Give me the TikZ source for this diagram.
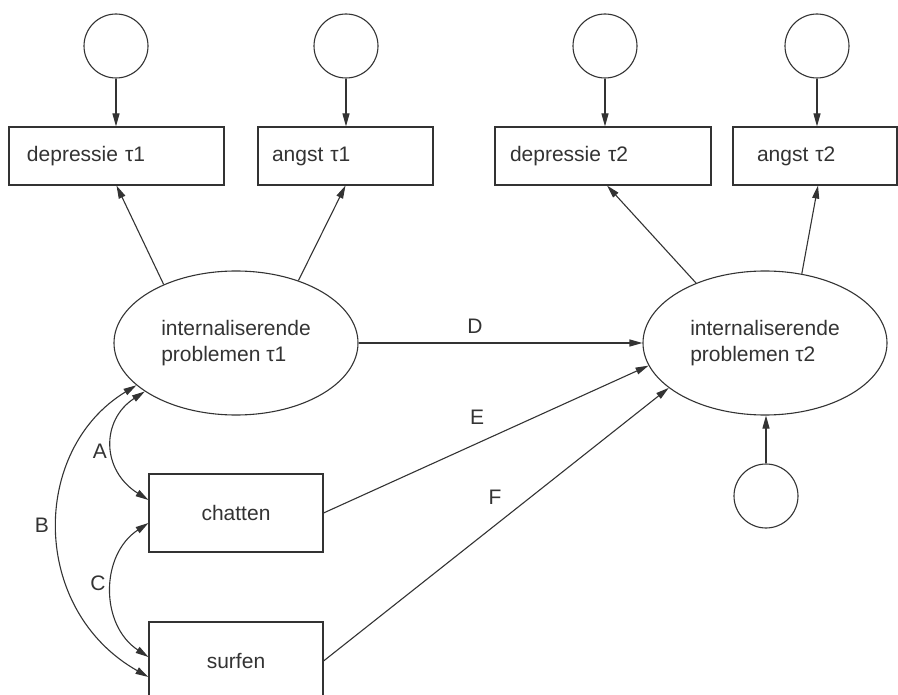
\documentclass[tikz,border=0pt]{standalone}
\usepackage{fontspec}
\setmainfont{Liberation Sans}
\usetikzlibrary{arrows.meta,shapes.geometric,calc}
\definecolor{ink}{HTML}{333333}
\begin{document}
\begin{tikzpicture}[x=1pt,y=-1pt,
  every node/.style={font=\fontsize{21}{26}\selectfont, text=ink},
  obs/.style={draw=ink, line width=1.1pt, rectangle, minimum height=58pt, inner ysep=0pt, align=left},
  smallbox/.style={draw=ink, line width=1.1pt, rectangle, minimum width=174pt, minimum height=78pt, inner sep=0pt},
  lat/.style={draw=ink, line width=1.1pt, ellipse, minimum width=244pt, minimum height=144pt, inner sep=0pt, align=left},
  err/.style={draw=ink, line width=1.1pt, circle, minimum size=64pt, inner sep=0pt},
  arr/.style={draw=ink, line width=1.1pt, -{Triangle[length=13pt,width=7pt]}},
  cov/.style={draw=ink, line width=1.1pt, {Triangle[length=13pt,width=7pt]}-{Triangle[length=13pt,width=7pt]}},
  lbl/.style={inner sep=0pt}
]
\useasboundingbox (0,0) rectangle (898,695);
\clip (0,0) rectangle (898,695);

% error circles
\node[err] (c1) at (116,46) {};
\node[err] (c2) at (346,46) {};
\node[err] (c3) at (605,46) {};
\node[err] (c4) at (817,46) {};
\node[err] (c5) at (766,496) {};

% indicator boxes
\node[obs, text width=179pt, inner xsep=18pt] (b1) at (116.5,156) {depressie τ1};
\node[obs, text width=147pt, inner xsep=14pt] (b2) at (345.5,156) {angst τ1};
\node[obs, text width=186pt, inner xsep=15pt] (b3) at (603,156) {depressie τ2};
\node[obs, text width=116pt, inner xsep=24pt] (b4) at (815,156) {angst τ2};

% latent variables
\node[lat] (e1) at (236,343) {internaliserende\\problemen τ1};
\node[lat] (e2) at (765,343) {internaliserende\\problemen τ2};

% predictors
\node[smallbox] (ch) at (236,513) {chatten};
\node[smallbox] (sf) at (236,661) {surfen};

% error arrows
\draw[arr] (c1.south) -- (c1.south |- b1.north);
\draw[arr] (c2.south) -- (c2.south |- b2.north);
\draw[arr] (c3.south) -- (c3.south |- b3.north);
\draw[arr] (c4.south) -- (c4.south |- b4.north);
\draw[arr] (c5.north) -- (c5.north |- e2.south);

% loadings
\draw[arr] (e1.141) -- (b1.south);
\draw[arr] (e1.45) -- (b2.south);
\draw[arr] (e2.139) -- ($(b3.south)+(4,0)$);
\draw[arr] (e2.62) -- ($(b4.south)+(3,0)$);

% structural paths
\draw[arr] (e1.east) -- (e2.west);
\draw[arr] (ch.east) -- (e2.191);
\draw[arr] (sf.east) -- (e2.205);

% covariances
\draw[cov] (e1.208) .. controls (101,420) and (101,470) .. ($(ch.west)+(0,-13)$);
\draw[cov] (e1.203) .. controls (30,450) and (30,610) .. ($(sf.west)+(0,16)$);
\draw[cov] ($(ch.west)+(0,10)$) .. controls (100,555) and (100,625) .. ($(sf.west)+(0,-4)$);

% labels
\node[lbl] (lA) at (100,451) {A};
\node[lbl] (lB) at (42,525) {B};
\node[lbl] (lC) at (98,583) {C};
\node[lbl] (lD) at (475,326) {D};
\node[lbl] (lE) at (477,417) {E};
\node[lbl] (lF) at (495,497) {F};
\end{tikzpicture}
\end{document}
